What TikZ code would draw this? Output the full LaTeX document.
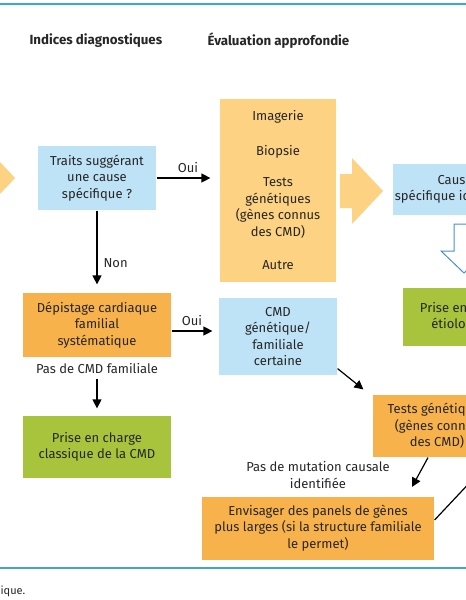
\documentclass[tikz,border=0pt]{standalone}
\usepackage{fontspec}
\setmainfont{Fira Sans}
\usetikzlibrary{arrows.meta}

\definecolor{boxblue}{HTML}{BFE3F6}
\definecolor{boxsand}{HTML}{FDD282}
\definecolor{boxorange}{HTML}{F8B24C}
\definecolor{boxgreen}{HTML}{A8C43C}
\definecolor{rulebl}{HTML}{3AA8D8}
\definecolor{ruleteal}{HTML}{45A6C2}
\definecolor{arrowbl}{HTML}{4A90CC}
\definecolor{txt}{HTML}{262626}

\tikzset{
  box/.style={align=center, inner sep=0pt, text=txt,
    font=\fontsize{13}{16.5}\selectfont},
  bluebox/.style={box, fill=boxblue},
  sandbox/.style={box, fill=boxsand},
  orangebox/.style={box, fill=boxorange},
  greenbox/.style={box, fill=boxgreen},
  lbl/.style={align=center, inner sep=1pt, text=txt,
    font=\fontsize{13}{16.5}\selectfont},
  head/.style={inner sep=0pt, text=txt, font=\fontsize{13.3}{15}\selectfont\bfseries},
}

\begin{document}
\begin{tikzpicture}[x=1pt, y=-1pt, >={Triangle[length=9pt,width=9pt]}, line width=1.2pt]
    \useasboundingbox (0,0) rectangle (466,600);
    \clip (0,0) rectangle (466,600);

    % filets
    \draw[rulebl, line width=2pt] (0,4) -- (466,4);
    \draw[ruleteal, line width=2pt] (0,568) -- (466,568);

    % titres des colonnes
    \node[head, anchor=west] (hind) at (29,41) {Indices diagnostiques};
    \node[head, anchor=west] (heval) at (207,41) {Évaluation approfondie};

    % grosses flèches
    \fill[boxsand] (-40,171) -- (-16,171) -- (-16,145) -- (15,178) -- (-16,211) -- (-16,185) -- (-40,185) -- cycle;
    \fill[boxsand] (340,174) -- (352,174) -- (352,158) -- (383,191) -- (352,224) -- (352,208) -- (340,208) -- cycle;
    \filldraw[draw=arrowbl, fill=white, line width=1pt]
        (454,224) -- (474,224) -- (474,251) -- (487,251) -- (464,273) -- (441,251) -- (454,251) -- cycle;

    % boîtes
    \node[bluebox, minimum width=118, minimum height=64] (traits) at (97,178) {Traits suggérant\\une cause\\spécifique ?};
    \node[sandbox, minimum width=116, minimum height=183] (eval) at (278,190.5)
        {Imagerie\\[18pt]Biopsie\\[15pt]Tests\\génétiques\\(gènes connus\\des CMD)\\[17pt]Autre};
    \node[bluebox, minimum width=124, minimum height=51] (cause) at (455,189.5) {Cause\\spécifique identifiée};
    \node[greenbox, minimum width=124, minimum height=58] (etio) at (465,317) {Prise en charge\\étiologique};
    \node[orangebox, minimum width=148, minimum height=64] (depist) at (97,325) {Dépistage cardiaque\\familial\\systématique};
    \node[lbl] (nofam) at (97,369) {Pas de CMD familiale};
    \node[greenbox, minimum width=148, minimum height=62] (classic) at (97,447) {Prise en charge\\classique de la CMD};
    \node[bluebox, minimum width=118, minimum height=77] (cmdfam) at (278,336.5) {CMD\\génétique/\\familiale\\certaine};
    \node[orangebox, minimum width=128, minimum height=62] (tests) at (437,426) {Tests génétiques\\(gènes connus\\des CMD)};
    \node[lbl] (nomut) at (318,475) {Pas de mutation causale\\identifiée};
    \node[orangebox, minimum width=232, minimum height=63] (panels) at (318,528)
        {Envisager des panels de gènes\\plus larges (si la structure familiale\\le permet)};
    \coordinate (hors) at (490,461);

    % connecteurs
    \draw[->, shorten >=9pt] (traits) -- (traits -| eval.west)
        node[lbl, midway, above=4pt] {Oui};
    \draw[->, shorten >=8pt] (traits) -- (depist)
        node[lbl, pos=.64, right=5pt] {Non};
    \draw[->] ([yshift=-6pt]depist.east) -- ([yshift=-6pt, xshift=-6pt]depist.east -| cmdfam.west)
        node[lbl, midway, above=4pt] {Oui};
    \draw[->, shorten <=3pt, shorten >=7pt] (nofam) -- (classic);
    \draw[->] ([yshift=7pt]cmdfam.south east) -- ([xshift=-9pt, yshift=5pt]tests.north west);
    \draw[->] ([xshift=-9pt]tests.south) -- ([xshift=94pt, yshift=9pt]panels.north);
    \draw ([yshift=8pt]panels.east) -- (hors);

    % légende coupée
    \node[lbl, anchor=west, font=\fontsize{11}{12}\selectfont] (legend) at (-1,591) {ique.};
\end{tikzpicture}
\end{document}
